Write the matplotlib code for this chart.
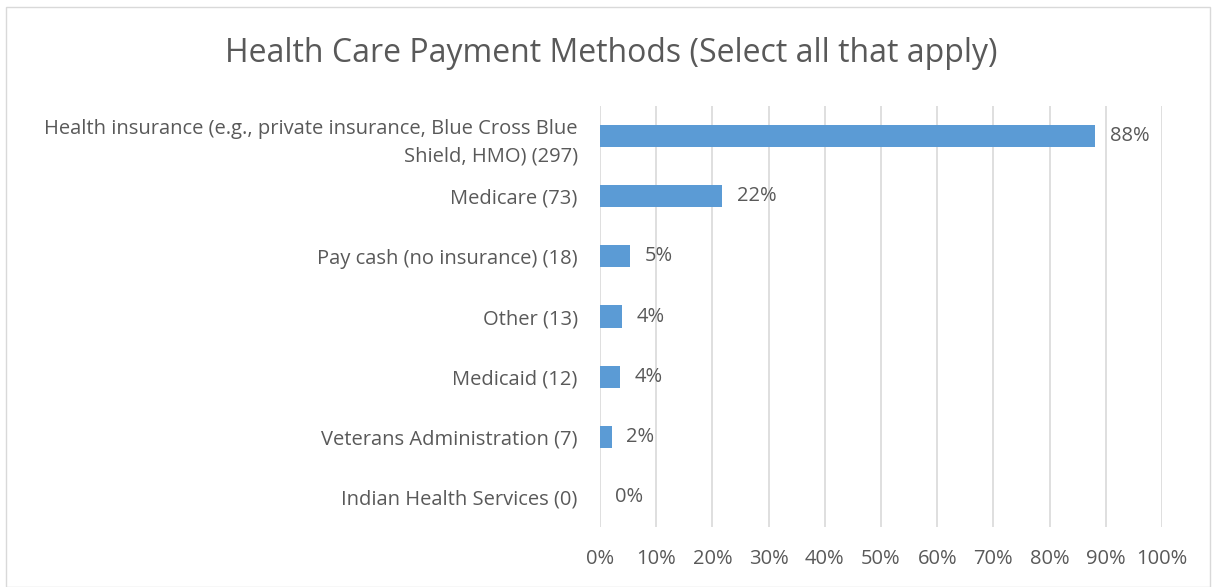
import matplotlib.pyplot as plt
import numpy as np
from matplotlib.patches import Rectangle

# Payment methods (count of respondents in brackets)
categories = [
    'Health insurance (e.g., private insurance, Blue Cross Blue\nShield, HMO) (297)',
    'Medicare (73)',
    'Pay cash (no insurance) (18)',
    'Other (13)',
    'Medicaid (12)',
    'Veterans Administration (7)',
    'Indian Health Services (0)',
]
percent = [88.1, 21.7, 5.3, 3.9, 3.6, 2.1, 0.0]
percent_labels = ['88%', '22%', '5%', '4%', '4%', '2%', '0%']
x_ticks = [0, 10, 20, 30, 40, 50, 60, 70, 80, 90, 100]

# Colours
c_bar = '#5B9BD5'
c_text = '#595959'
c_grid = '#D9D9D9'

plt.rcParams['font.family'] = ['Open Sans', 'DejaVu Sans']
fsize = 14.5

fig = plt.figure(figsize=[12.17, 5.87], dpi=100)
ax = fig.add_axes([600 / 1217, 1 - 527 / 587, 562 / 1217, 421 / 587])

y_pos = np.arange(len(categories))
ax.barh(y_pos, percent, height=0.37, color=c_bar, zorder=3)
ax.set_ylim(len(categories) - 0.5, -0.5)
ax.set_xlim(0, 100)

for y, val, lab in zip(y_pos, percent, percent_labels):
    ax.text(val + 2.6, y, lab, va='center', ha='left', fontsize=fsize, color=c_text)

ax.set_xticks(x_ticks)
ax.set_xticklabels([str(t) + '%' for t in x_ticks], fontsize=fsize, color=c_text)
ax.set_yticks(y_pos)
ax.set_yticklabels(categories, fontsize=fsize, color=c_text, ha='right',
                   multialignment='right', linespacing=1.5)
ax.tick_params(axis='x', length=0, pad=16)
ax.tick_params(axis='y', length=0, pad=16)
ax.grid(True, axis='x', color=c_grid, linewidth=1.2, zorder=0)
for sp in ax.spines.values():
    sp.set_visible(False)

fig.suptitle('Health Care Payment Methods (Select all that apply)', x=611 / 1217, y=1 - 53 / 587,
             va='center', fontsize=23, color=c_text)

# chart border
fig.patches.append(Rectangle((6 / 1217, 0), 1204 / 1217, 1 - 7 / 587, transform=fig.transFigure,
                             fill=False, edgecolor=c_grid, linewidth=1))

fig.savefig('out.png', dpi=100)
